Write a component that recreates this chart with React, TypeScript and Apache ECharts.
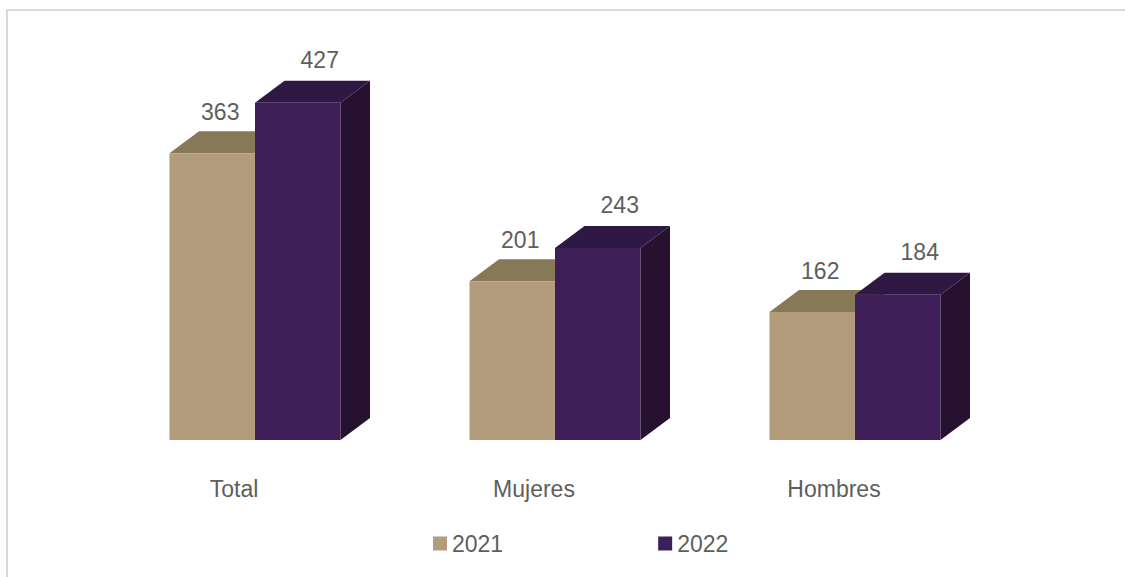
import React, { useEffect, useRef } from "react";
import * as echarts from "echarts";

const categories = ["Total", "Mujeres", "Hombres"];
const values2021 = [363, 201, 162];
const values2022 = [427, 243, 184];
const seriesNames = ["2021", "2022"];

const COLORS = {
  "2021": { front: "#b39c7b", top: "#877858", side: "#6e6148" },
  "2022": { front: "#3e1f57", top: "#2f1843", side: "#261230" },
};

const FONT = '"Liberation Sans", Arial, sans-serif';
const TEXT_COLOR = "#5e5e5e";

function makeRender(idx: number, name: string) {
  const c = (COLORS as any)[name];
  return (params: any, api: any) => {
    const cat = api.value(0);
    const val = api.value(1);
    const top = api.coord([cat, val]);
    const base = api.coord([cat, 0]);
    const band = api.size([1, 0])[0];
    const w = band * 0.285;
    const dx = 29.5;
    const dy = -22;
    const x0 = idx === 0 ? top[0] - w : top[0];
    const x1 = x0 + w;
    const yt = top[1];
    const yb = base[1];
    const labelDx = idx === 0 ? 8 : 22;
    const labelDy = idx === 0 ? -41 : -43;
    return {
      type: "group",
      children: [
        {
          type: "polygon",
          shape: { points: [[x1, yb], [x1 + dx, yb + dy], [x1 + dx, yt + dy], [x1, yt]] },
          style: { fill: c.side },
        },
        {
          type: "polygon",
          shape: { points: [[x0, yt], [x0 + dx, yt + dy], [x1 + dx, yt + dy], [x1, yt]] },
          style: { fill: c.top },
        },
        {
          type: "rect",
          shape: { x: x0, y: yt, width: w, height: yb - yt },
          style: { fill: c.front },
        },
        {
          type: "text",
          style: {
            text: String(val),
            x: (x0 + x1) / 2 + labelDx,
            y: yt + labelDy,
            fill: TEXT_COLOR,
            font: `23px ${FONT}`,
            align: "center",
            verticalAlign: "middle",
          },
        },
      ],
    };
  };
}

export default function App() {
  const ref = useRef<HTMLDivElement>(null);
  useEffect(() => {
    if (!ref.current) return;
    const chart = echarts.init(ref.current, undefined, { renderer: "svg" });
    const data2021 = categories.map((_, i) => [i, values2021[i]]);
    const data2022 = categories.map((_, i) => [i, values2022[i]]);
    chart.setOption({
      animation: false,
      backgroundColor: "#ffffff",
      graphic: [
        {
          type: "rect",
          shape: { x: 7, y: 10, width: 1200, height: 700 },
          style: { fill: "none", stroke: "#d9d9d9", lineWidth: 2 },
          silent: true,
          z: 0,
        },
      ],
      grid: { left: 105, right: 120, top: 45, bottom: 137 },
      xAxis: {
        type: "category",
        data: categories,
        axisLine: { show: false },
        axisTick: { show: false },
        axisLabel: {
          margin: 37,
          fontSize: 23,
          fontFamily: FONT,
          color: TEXT_COLOR,
          padding: [0, 42, 0, 0],
        },
      },
      yAxis: {
        type: "value",
        min: 0,
        max: 500,
        show: false,
        splitLine: { show: false },
      },
      legend: {
        left: 428,
        top: 527,
        icon: "rect",
        itemWidth: 14,
        itemHeight: 14,
        itemGap: 155,
        data: seriesNames,
        textStyle: { fontSize: 23, fontFamily: FONT, color: TEXT_COLOR },
      },
      series: [
        {
          type: "custom",
          name: "2021",
          data: data2021,
          encode: { x: 0, y: 1 },
          itemStyle: { color: COLORS["2021"].front },
          renderItem: makeRender(0, "2021"),
          z: 2,
        },
        {
          type: "custom",
          name: "2022",
          data: data2022,
          encode: { x: 0, y: 1 },
          itemStyle: { color: COLORS["2022"].front },
          renderItem: makeRender(1, "2022"),
          z: 3,
        },
      ],
    });
    return () => chart.dispose();
  }, []);
  return (
    <div
      ref={ref}
      style={{ position: "fixed", left: 0, top: 0, width: 1125, height: 577 }}
    />
  );
}
